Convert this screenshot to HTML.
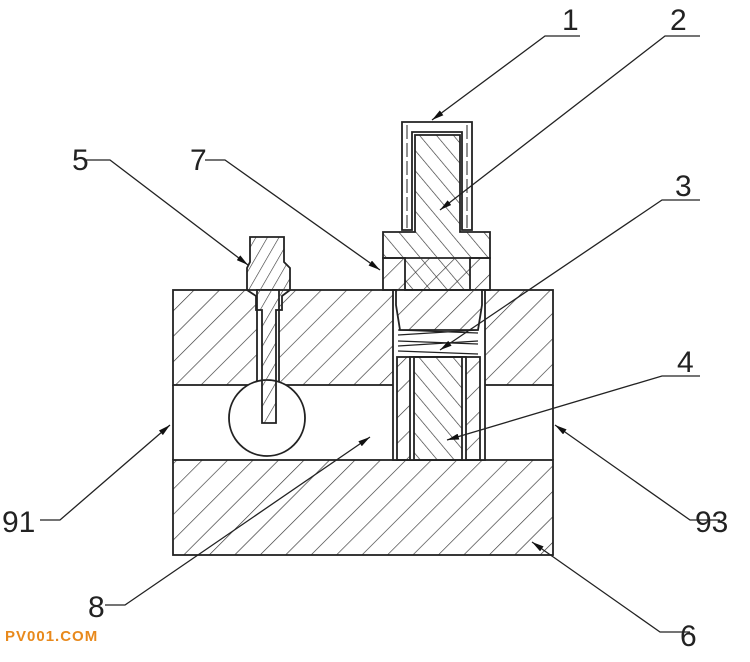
<!DOCTYPE html>
<html><head><meta charset="utf-8"><style>
html,body{margin:0;padding:0;background:#fff;}
svg{display:block;}
text{font-family:"Liberation Sans",sans-serif;font-size:30px;fill:#222;}
</style></head><body>
<svg width="750" height="662" viewBox="0 0 750 662" xmlns="http://www.w3.org/2000/svg">
<defs>
<pattern id="h1" width="18" height="18" patternUnits="userSpaceOnUse" patternTransform="rotate(45)">
<line x1="0" y1="0" x2="0" y2="18" stroke="#333" stroke-width="1.3"/></pattern>
<pattern id="h2" width="13" height="13" patternUnits="userSpaceOnUse" patternTransform="rotate(-40)">
<line x1="0" y1="0" x2="0" y2="13" stroke="#333" stroke-width="1.3"/></pattern>
<pattern id="h3" width="10" height="10" patternUnits="userSpaceOnUse" patternTransform="rotate(30)">
<line x1="0" y1="0" x2="0" y2="10" stroke="#333" stroke-width="1.2"/></pattern>
<marker id="ar" viewBox="0 0 12 6" refX="12" refY="3" markerWidth="12" markerHeight="6" markerUnits="userSpaceOnUse" orient="auto">
<path d="M0 0 L12 3 L0 6 Z" fill="#111"/></marker>
</defs>
<g stroke="#222" stroke-width="1.8" fill="none">
<rect x="173" y="290" width="380" height="95" fill="url(#h1)"/>
<rect x="173" y="460" width="380" height="95" fill="url(#h1)"/>
<line x1="173" y1="385" x2="173" y2="460"/>
<line x1="553" y1="385" x2="553" y2="460"/>
<rect x="393" y="290" width="92" height="170" fill="#fff"/>
<rect x="257" y="290" width="22" height="95" fill="#fff"/>
<circle cx="267" cy="418" r="38" fill="#fff"/>
<!-- valve 5 -->
<path d="M250 237 H284 V262 L290 268 V290 L282 296 V310 H276 V423 H262 V310 H256 V296 L247 290 V268 L250 262 Z" fill="url(#h3)"/>
<!-- rod 4 -->
<rect x="397" y="357" width="83" height="103" fill="url(#h1)"/>
<rect x="410" y="357" width="56" height="103" fill="#fff"/>
<rect x="414" y="357" width="48" height="103" fill="url(#h2)"/>
<!-- spring -->
<g stroke-width="1.3">
<line x1="398" y1="330" x2="478" y2="333"/><line x1="398" y1="335" x2="478" y2="330"/>
<line x1="398" y1="341" x2="478" y2="344"/><line x1="398" y1="346" x2="478" y2="341"/>
<line x1="398" y1="351" x2="478" y2="354"/>
</g>
<!-- nut 7 -->
<path d="M383 258 H490 V290 H482 V305 L478 330 H400 L396 305 V290 H383 Z" fill="url(#h1)"/>
<!-- component 2 -->
<path d="M415 135 H460 V232 H490 V258 H470 V290 H405 V258 H383 V232 H415 Z" fill="url(#h2)"/>
<!-- cap 1 -->
<path d="M402 122 H472 V230 H462 V132 H412 V230 H402 Z" fill="#fff"/>
<g stroke-width="1">
<line x1="407" y1="125" x2="407" y2="228" stroke-dasharray="14 4"/>
<line x1="467" y1="125" x2="467" y2="228" stroke-dasharray="14 4"/>
</g>
<!-- leaders -->
<g stroke-width="1.3">
<path d="M580 36 H545 L432 120" marker-end="url(#ar)"/>
<path d="M700 36 H665 L440 210" marker-end="url(#ar)"/>
<path d="M700 200 H662 L440 350" marker-end="url(#ar)"/>
<path d="M700 376 H662 L447 440" marker-end="url(#ar)"/>
<path d="M85 160 H110 L248 265" marker-end="url(#ar)"/>
<path d="M205 160 H225 L380 270" marker-end="url(#ar)"/>
<path d="M40 520 H60 L170 425" marker-end="url(#ar)"/>
<path d="M720 520 H690 L555 425" marker-end="url(#ar)"/>
<path d="M105 605 H125 L370 437" marker-end="url(#ar)"/>
<path d="M690 632 H660 L532 542" marker-end="url(#ar)"/>
</g>
</g>
<text x="562" y="30">1</text>
<text x="670" y="30">2</text>
<text x="675" y="196">3</text>
<text x="677" y="372">4</text>
<text x="72" y="170">5</text>
<text x="190" y="170">7</text>
<text x="2" y="532">91</text>
<text x="695" y="532">93</text>
<text x="88" y="617">8</text>
<text x="680" y="646">6</text>
<text x="5" y="641" style="font-size:15px;fill:#e8891c;font-weight:bold;letter-spacing:1px">PV001.COM</text>
</svg>
</body></html>
